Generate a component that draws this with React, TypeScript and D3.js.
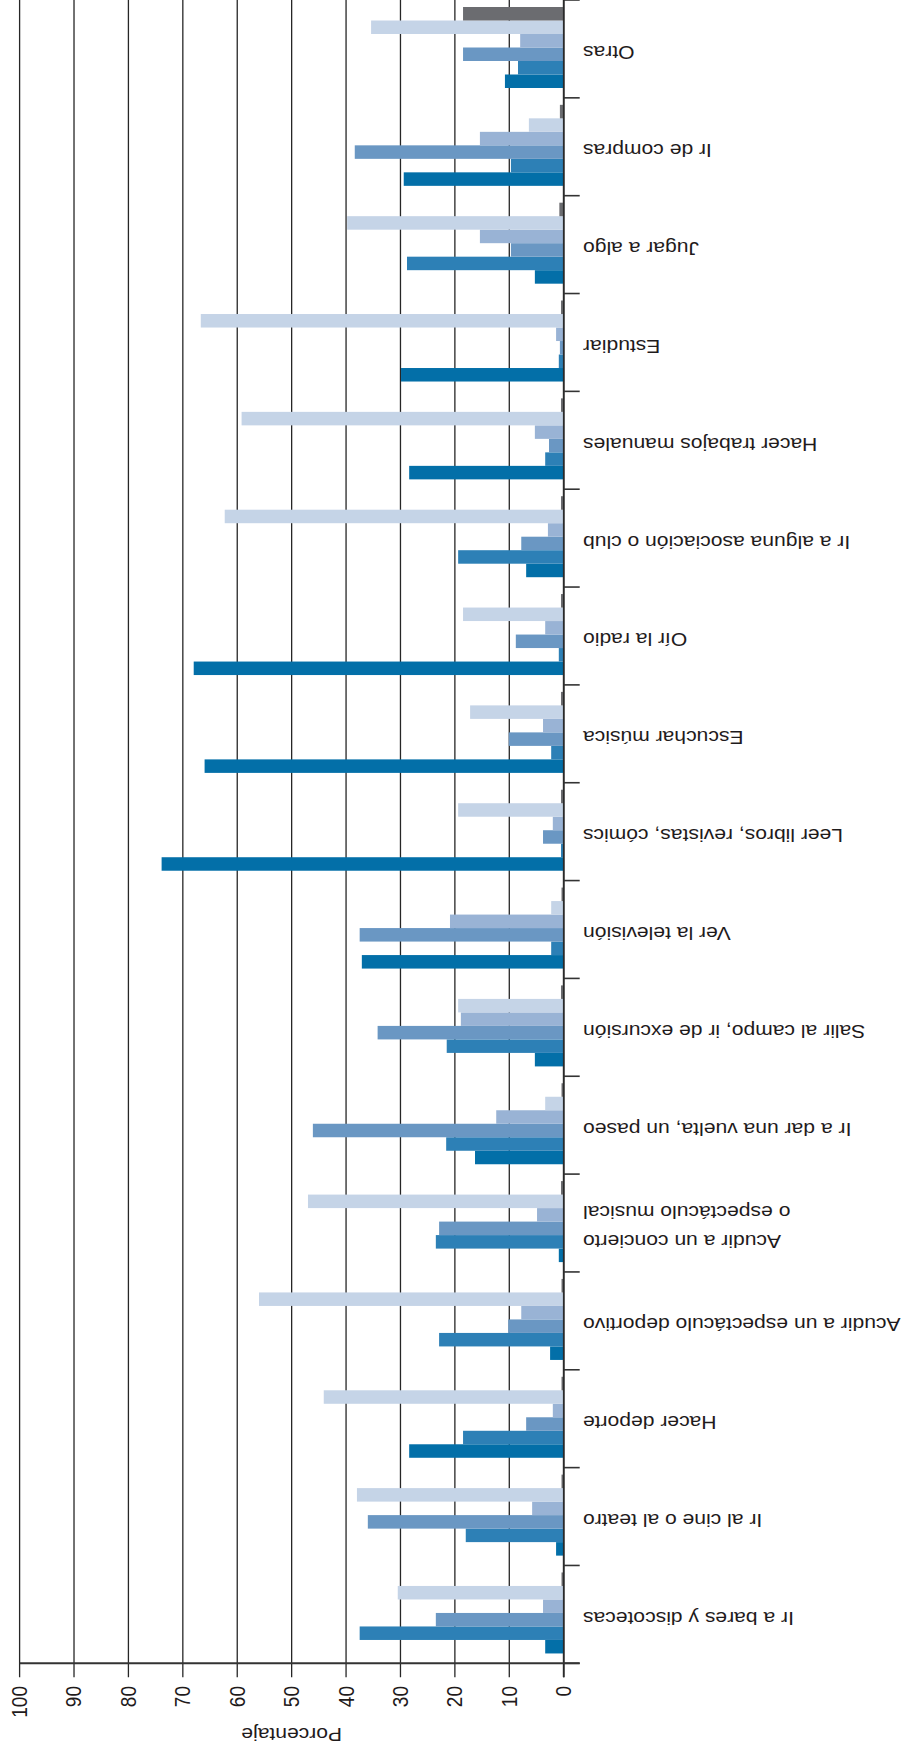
import React, { useEffect, useRef } from "react";
import * as d3 from "d3";

// categories, first one sits at the bottom of the (upside-down) picture
const categories = [
  "Ir a bares y discotecas",
  "Ir al cine o al teatro",
  "Hacer deporte",
  "Acudir a un espectáculo deportivo",
  "Acudir a un concierto\no espectáculo musical",
  "Ir a dar una vuelta, un paseo",
  "Salir al campo, ir de excursión",
  "Ver la televisión",
  "Leer libros, revistas, cómics",
  "Escuchar música",
  "Oír la radio",
  "Ir a alguna asociación o club",
  "Hacer trabajos manuales",
  "Estudiar",
  "Jugar a algo",
  "Ir de compras",
  "Otras",
];

const serie1 = [3.4, 1.4, 28.4, 2.5, 0.9, 16.3, 5.3, 37.1, 73.9, 66.0, 68.0, 6.9, 28.4, 29.9, 5.3, 29.4, 10.8];
const serie2 = [37.5, 18.0, 18.5, 22.9, 23.5, 21.6, 21.5, 2.3, 0.5, 2.3, 0.9, 19.4, 3.4, 0.9, 28.8, 9.7, 8.4];
const serie3 = [23.5, 36.0, 6.9, 10.2, 22.9, 46.1, 34.2, 37.5, 3.8, 10.1, 8.8, 7.8, 2.7, 0.7, 9.7, 38.4, 18.5];
const serie4 = [3.8, 5.8, 2.0, 7.8, 4.9, 12.4, 18.9, 20.9, 2.0, 3.8, 3.4, 2.9, 5.3, 1.4, 15.4, 15.4, 8.0];
const serie5 = [30.5, 38.0, 44.1, 56.0, 47.0, 3.4, 19.4, 2.3, 19.4, 17.2, 18.5, 62.3, 59.2, 66.7, 39.8, 6.4, 35.4];
const serie6 = [0.4, 0.4, 0.4, 0.4, 0.5, 0.4, 0.5, 0.4, 0.5, 0.5, 0.5, 0.5, 0.5, 0.5, 0.8, 0.7, 18.5];

const seriesKeys = ["s1", "s2", "s3", "s4", "s5", "s6"];
const seriesValues = [serie1, serie2, serie3, serie4, serie5, serie6];
const seriesColors = ["#036fa8", "#2d80b6", "#6a97c3", "#99b3d5", "#c5d4e7", "#6b6c70"];

const xTicks = [0, 10, 20, 30, 40, 50, 60, 70, 80, 90, 100];
const axisTitle = "Porcentaje";

const W = 909;
const H = 1757;
const FONT = "'Liberation Sans', Arial, Helvetica, sans-serif";
const STRETCH = 1.14; // text in the picture is a bit wider than tall

const App: React.FC = () => {
  const svgRef = useRef<SVGSVGElement | null>(null);

  useEffect(() => {
    if (!svgRef.current) return;
    const svg = d3.select(svgRef.current);
    svg.selectAll("*").remove();

    const zeroX = 563.7;
    const fullX = 19.6;
    const plotBottom = 1663.3;
    const tickLen = 16;

    const x = d3.scaleLinear().domain([0, 100]).range([zeroX, fullX]);

    // whole chart is upside down: last category on top
    const y = d3
      .scaleBand<string>()
      .domain(categories.slice().reverse())
      .range([0, plotBottom])
      .paddingInner(0)
      .paddingOuter(0);

    // within a band, gray on top, darkest blue at the bottom
    const inner = d3
      .scaleBand<string>()
      .domain(seriesKeys.slice().reverse())
      .range([7, 88]);

    // gridlines
    svg
      .append("g")
      .selectAll("line")
      .data(xTicks)
      .join("line")
      .attr("x1", (d) => x(d))
      .attr("x2", (d) => x(d))
      .attr("y1", 0)
      .attr("y2", plotBottom + 14)
      .attr("stroke", "#262626")
      .attr("stroke-width", (d) => (d === 0 ? 1.6 : 1.3));

    // bars
    const groups = svg
      .append("g")
      .selectAll("g")
      .data(categories)
      .join("g")
      .attr("transform", (c) => `translate(0,${y(c)})`);

    groups
      .selectAll("rect")
      .data((c) =>
        seriesKeys.map((k, j) => ({
          key: k,
          value: seriesValues[j][categories.indexOf(c as string)],
          color: seriesColors[j],
        }))
      )
      .join("rect")
      .attr("x", (d) => x(d.value))
      .attr("y", (d) => inner(d.key)!)
      .attr("width", (d) => zeroX - x(d.value))
      .attr("height", inner.bandwidth())
      .attr("fill", (d) => d.color);

    // zero axis line on top of the bars
    svg
      .append("line")
      .attr("x1", zeroX)
      .attr("x2", zeroX)
      .attr("y1", 0)
      .attr("y2", plotBottom + 14)
      .attr("stroke", "#2a2a2a")
      .attr("stroke-width", 1.6);

    // category ticks at band edges
    const edges = categories.map((c) => y(c)!).concat([plotBottom]);
    svg
      .append("g")
      .selectAll("line")
      .data(edges)
      .join("line")
      .attr("x1", zeroX)
      .attr("x2", zeroX + tickLen)
      .attr("y1", (d) => d)
      .attr("y2", (d) => d)
      .attr("stroke", "#333")
      .attr("stroke-width", 1.6);

    // baseline
    svg
      .append("line")
      .attr("x1", fullX)
      .attr("x2", zeroX + tickLen)
      .attr("y1", plotBottom)
      .attr("y2", plotBottom)
      .attr("stroke", "#333")
      .attr("stroke-width", 2);

    // value tick labels, rotated
    svg
      .append("g")
      .selectAll("text")
      .data(xTicks)
      .join("text")
      .attr("transform", (d) => `translate(${x(d)},1686) scale(${STRETCH},1) rotate(-90)`)
      .attr("text-anchor", "end")
      .attr("dominant-baseline", "central")
      .attr("font-family", FONT)
      .attr("font-size", 19)
      .attr("fill", "#1f1b1c")
      .text((d) => d);

    // category labels, upside down
    const lineGap = 28.3;
    categories.forEach((c) => {
      const lines = c.split("\n");
      const center = y(c)! + y.bandwidth() / 2;
      lines.forEach((ln, i) => {
        const base = center - 2.5 + ((lines.length - 1) / 2 - i) * lineGap;
        svg
          .append("text")
          .attr("transform", `translate(583,${base}) scale(${STRETCH},1) rotate(180)`)
          .attr("text-anchor", "end")
          .attr("font-family", FONT)
          .attr("font-size", 18.5)
          .attr("fill", "#1f1b1c")
          .text(ln);
      });
    });

    // axis title
    svg
      .append("text")
      .attr("transform", `translate(${(zeroX + fullX) / 2},1728) scale(${STRETCH},1) rotate(180)`)
      .attr("text-anchor", "middle")
      .attr("font-family", FONT)
      .attr("font-size", 18.5)
      .attr("fill", "#1f1b1c")
      .text(axisTitle);
  }, []);

  return (
    <svg
      ref={svgRef}
      width={W}
      height={H}
      style={{ position: "absolute", left: 0, top: 0, background: "#fff" }}
    ></svg>
  );
};

export default App;
